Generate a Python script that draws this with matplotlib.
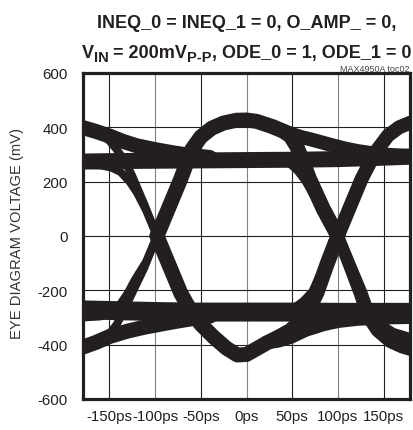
import matplotlib
matplotlib.use('agg')
import matplotlib.pyplot as plt

# ---- data (time in ps, voltage in mV) ----
x_ticks = [-150, -100, -50, 0, 50, 100, 150]
x_labels = ['-150ps', '-100ps', '-50ps', '0ps', '50ps', '100ps', '150ps']
y_ticks = [-600, -400, -200, 0, 200, 400, 600]
y_labels = ['-600', '-400', '-200', '0', '200', '400', '600']

# steady "1" and "0" levels
hi_flat_ps = [-180, -140, -100, -60, -20, 20, 60, 100, 140, 180]
hi_flat_mv = [274, 276, 277, 278, 279, 280, 281, 283, 287, 292]
lo_flat_ps = [-180, -140, -100, -60, -20, 20, 60, 100, 140, 180]
lo_flat_mv = [-272, -275, -278, -280, -280, -280, -280, -281, -281, -281]

# settling traces entering from the left edge
b_hi_ps = [-180, -165, -150, -135, -120, -100, -80, -60, -40]
b_hi_mv = [400, 385, 368, 348, 332, 318, 306, 296, 289]
b_lo_ps = [-180, -165, -150, -130, -112, -90, -75, -55, -40]
b_lo_mv = [-410, -392, -370, -350, -336, -322, -313, -302, -295]

# left crossing (-100ps)
l_fall_b_ps = [-168, -158, -150, -142, -134, -126, -112, -98]
l_fall_b_mv = [388, 372, 350, 318, 280, 228, 118, 0]
l_fall_f_ps = [-180, -160, -148, -138, -128, -120, -110, -98]
l_fall_f_mv = [262, 260, 252, 236, 200, 160, 95, 0]
l_rise_b_ps = [-168, -160, -150, -142, -135, -128, -112, -98]
l_rise_b_mv = [-400, -385, -360, -325, -280, -230, -118, 0]
l_rise_f_ps = [-180, -160, -148, -138, -130, -122, -110, -98]
l_rise_f_mv = [-300, -296, -280, -250, -210, -160, -95, 0]

# isolated bits
arch_ps = [-98, -85, -72, -60, -50, -38, -25, -11, 0, 11, 29, 40, 48, 55, 62, 69, 84, 100]
arch_mv = [0, 105, 210, 318, 365, 397, 416, 426, 427, 422, 402, 386, 368, 330, 272, 210, 100, 0]
valley_ps = [-98, -85, -72, -62, -50, -36, -22, -10, 0, 10, 22, 35, 48, 60, 68, 77, 88, 100]
valley_mv = [0, -105, -210, -270, -325, -372, -413, -438, -436, -417, -394, -372, -348, -310, -270, -210, -105, 0]

# settling after the isolated bits
arch_settle_ps = [29, 40, 50, 60, 70, 82, 95, 108, 121, 135, 150, 165, 180]
arch_settle_mv = [400, 388, 375, 364, 356, 345, 333, 322, 313, 306, 300, 297, 295]
valley_settle_ps = [22, 35, 48, 65, 84, 100, 121, 150, 180]
valley_settle_mv = [-392, -385, -372, -345, -325, -313, -305, -300, -298]

# right crossing (+100ps)
r_fall_f_ps = [20, 38, 48, 56, 64, 82, 100]
r_fall_f_mv = [281, 277, 265, 240, 205, 100, 0]
r_rise_f_ps = [20, 40, 52, 62, 72, 86, 100]
r_rise_f_mv = [-281, -278, -265, -240, -205, -100, 0]
r_fall_a_ps = [100, 112, 124, 132, 143, 157, 170, 180]
r_fall_a_mv = [0, -105, -212, -295, -350, -390, -410, -420]
r_fall_b_ps = [100, 113, 126, 134, 146, 160, 180]
r_fall_b_mv = [0, -105, -210, -285, -330, -360, -380]
r_rise_ps = [100, 113, 126, 141, 155, 167, 180]
r_rise_mv = [0, 105, 210, 308, 370, 400, 418]

plt.rcParams['font.family'] = ['Liberation Sans', 'DejaVu Sans']

ink = '#231f20'
px = 0.72  # points per pixel at dpi 100

fig = plt.figure(figsize=(4.13, 4.31), dpi=100)
ax = fig.add_axes([83 / 413, 1 - 400 / 431, 327 / 413, 326 / 431])

traces = [
    (hi_flat_ps, hi_flat_mv, 16), (lo_flat_ps, lo_flat_mv, 19),
    (b_hi_ps, b_hi_mv, 15), (b_lo_ps, b_lo_mv, 15),
    (l_fall_b_ps, l_fall_b_mv, 8), (l_fall_f_ps, l_fall_f_mv, 8),
    (l_rise_b_ps, l_rise_b_mv, 8), (l_rise_f_ps, l_rise_f_mv, 8),
    (arch_ps, arch_mv, 15), (valley_ps, valley_mv, 15),
    (arch_settle_ps, arch_settle_mv, 14), (valley_settle_ps, valley_settle_mv, 14),
    (r_fall_f_ps, r_fall_f_mv, 8), (r_rise_f_ps, r_rise_f_mv, 8),
    (r_fall_a_ps, r_fall_a_mv, 12), (r_fall_b_ps, r_fall_b_mv, 12),
    (r_rise_ps, r_rise_mv, 14),
]
for t, v, w in traces:
    ax.plot(t, v, color=ink, lw=w * px, solid_joinstyle='round',
            solid_capstyle='round', zorder=3)

ax.set_xlim(-179, 179)
ax.set_ylim(-600, 600)
ax.set_xticks(x_ticks)
ax.set_xticklabels(x_labels)
ax.set_yticks(y_ticks)
ax.set_yticklabels(y_labels)
ax.tick_params(length=0, labelsize=10.8, colors=ink)
ax.tick_params(axis='y', pad=11)
ax.tick_params(axis='x', pad=7.5)
ax.grid(True, color=ink, lw=0.8, zorder=0)
for i, g in enumerate(ax.get_xgridlines()):
    if i % 2 == 1:
        g.set_color('#808080')
for s in ax.spines.values():
    s.set_linewidth(2.3)
    s.set_color(ink)

fig.text(0.042, 1 - 233.5 / 431, 'EYE DIAGRAM VOLTAGE (mV)', rotation=90,
         ha='center', va='center', fontsize=10.6, color='#333333')
fig.text(246.5 / 413, 1 - 28 / 431, 'INEQ_0 = INEQ_1 = 0, O_AMP_ = 0,',
         ha='center', va='baseline', fontsize=13, fontweight='bold', color=ink)
fig.text(410 / 413, 1 - 71.5 / 431, 'MAX4950A toc02', ha='right', va='baseline',
         fontsize=6.5, color='#444444')

# second title line with V_IN and P-P subscripts, laid out piece by piece
r = fig.canvas.get_renderer()


def text_w(s, size):
    t = fig.text(0, 0, s, fontsize=size, fontweight='bold')
    w = t.get_window_extent(renderer=r).width
    t.remove()
    return w


space = text_w('0 0', 13) - text_w('00', 13)
pieces = [('V', 13, 0, 0), ('IN', 10.5, -3.5, space), ('= 200mV', 13, 0, 0),
          ('P-P', 10.5, -3.5, 0), (', ODE_0 = 1, ODE_1 = 0', 13, 0, 0)]
widths = [text_w(s, sz) + gap for s, sz, dy, gap in pieces]
x = 246.5 - sum(widths) / 2
for (s, sz, dy, gap), w in zip(pieces, widths):
    fig.text(x / 413, 1 - (58 - dy) / 431, s, fontsize=sz, fontweight='bold',
             ha='left', va='baseline', color=ink)
    x += w

fig.savefig('out.png', dpi=100)
